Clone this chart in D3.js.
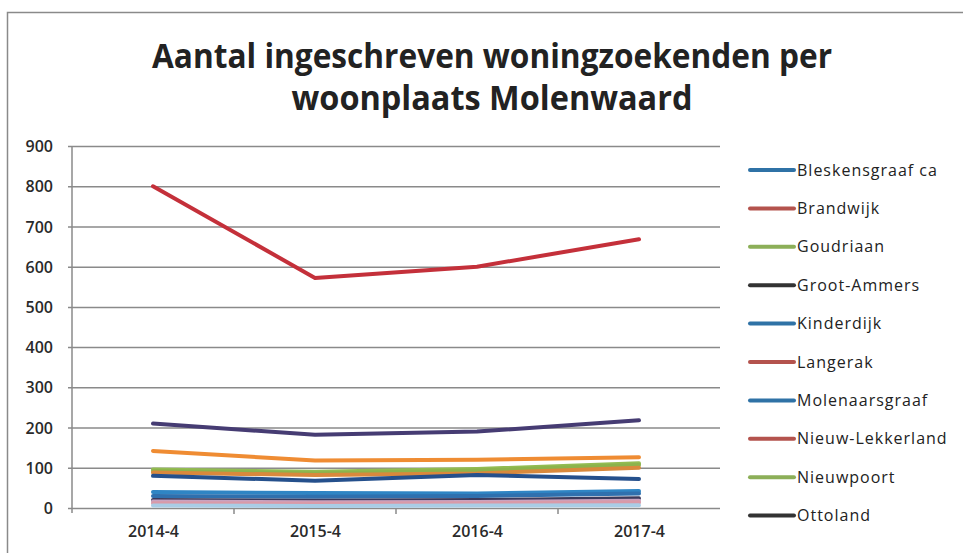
<!DOCTYPE html>
<html>
<head>
<meta charset="utf-8">
<script src="https://cdn.jsdelivr.net/npm/d3@7"></script>
<style>
  body { margin: 0; background: #fff; }
  text { fill: #222; }
</style>
</head>
<body>
<div id="chart"></div>
<script>
// periods on the x axis
const periods = ['2014-4', '2015-4', '2016-4', '2017-4'];

// places, in legend order
const places = [
  'Bleskensgraaf ca', 'Brandwijk', 'Goudriaan', 'Groot-Ammers', 'Kinderdijk',
  'Langerak', 'Molenaarsgraaf', 'Nieuw-Lekkerland', 'Nieuwpoort', 'Ottoland',
  'Oud-Alblas', 'Streefkerk', 'Wijngaarden'
];

// values per place
const bleskensgraaf   = [80, 68, 82, 72];
const brandwijk       = [12, 11, 12, 14];
const goudriaan       = [92, 86, 93, 107];
const grootAmmers     = [210, 182, 190, 218];
const kinderdijk      = [40, 37, 36, 42];
const langerak        = [88, 82, 86, 100];
const molenaarsgraaf  = [30, 28, 30, 36];
const nieuwLekkerland = [800, 572, 600, 668];
const nieuwpoort      = [96, 90, 97, 111];
const ottoland        = [20, 18, 20, 24];
const oudAlblas       = [6, 5, 6, 7];
const streefkerk      = [142, 118, 120, 126];
const wijngaarden     = [16, 14, 15, 18];

const seriesValues = [bleskensgraaf, brandwijk, goudriaan, grootAmmers, kinderdijk,
  langerak, molenaarsgraaf, nieuwLekkerland, nieuwpoort, ottoland,
  oudAlblas, streefkerk, wijngaarden];

const colors = ['#25508c', '#d99aa8', '#8cb34c', '#463c73', '#2f85c4',
  '#d9893c', '#2f70ae', '#c4303a', '#93bc52', '#3b3a5c',
  '#a9cde6', '#ef8c33', '#c9a3c0'];

const yTicks = [0, 100, 200, 300, 400, 500, 600, 700, 800, 900];

const width = 963, height = 553;
const plot = { left: 72, right: 720, top: 146, bottom: 508 };
const font = '"Open Sans", sans-serif';

const svg = d3.select('#chart').append('svg')
  .attr('width', width)
  .attr('height', height)
  .style('font-family', font);

// chart frame
svg.append('rect')
  .attr('x', 7.5).attr('y', 12.5)
  .attr('width', width + 20).attr('height', height + 20)
  .attr('fill', 'none')
  .attr('stroke', '#8a8a8a')
  .attr('stroke-width', 1.5);

// title
const titleLines = [
  { text: 'Aantal ingeschreven woningzoekenden per', y: 68, w: 680 },
  { text: 'woonplaats Molenwaard', y: 110, w: 401 }
];
svg.selectAll('.title')
  .data(titleLines)
  .enter().append('text')
  .attr('class', 'title')
  .attr('x', 492)
  .attr('y', d => d.y)
  .attr('text-anchor', 'middle')
  .attr('textLength', d => d.w)
  .attr('lengthAdjust', 'spacingAndGlyphs')
  .style('font-size', '34px')
  .style('font-weight', 'bold')
  .text(d => d.text);

const x = d3.scalePoint()
  .domain(periods)
  .range([plot.left, plot.right])
  .padding(0.5);

const y = d3.scaleLinear()
  .domain([0, 900])
  .range([plot.bottom, plot.top]);

// horizontal gridlines with small outer ticks
const yAxis = d3.axisLeft(y)
  .tickValues(yTicks)
  .tickSize(-(plot.right - plot.left) - 4)
  .tickPadding(16)
  .tickFormat(d3.format('d'));

const gy = svg.append('g')
  .attr('transform', `translate(${plot.left - 4},0)`)
  .call(yAxis)
  .attr('font-family', font);
gy.select('.domain').remove();
gy.selectAll('.tick line')
  .attr('x1', 0)
  .attr('stroke', '#8a8a8a')
  .attr('stroke-width', 1.5);
gy.selectAll('.tick text')
  .attr('x', -15)
  .style('font-size', '16px')
  .style('font-weight', '600')
  .style('fill', '#2a2a2a')
  .attr('dy', '0.35em');

// vertical axis line
svg.append('line')
  .attr('x1', plot.left).attr('x2', plot.left)
  .attr('y1', plot.top).attr('y2', plot.bottom + 5)
  .attr('stroke', '#8a8a8a')
  .attr('stroke-width', 1.5);

// x axis with ticks between categories
const step = x.step();
const xAxis = d3.axisBottom(x).tickSize(0).tickPadding(18);
const gx = svg.append('g')
  .attr('transform', `translate(0,${plot.bottom})`)
  .call(xAxis)
  .attr('font-family', font);
gx.select('.domain').remove();
gx.selectAll('.tick text')
  .style('font-size', '16px')
  .style('font-weight', '600')
  .style('fill', '#2a2a2a');
gx.selectAll('.sep')
  .data(periods.slice(0, -1))
  .enter().append('line')
  .attr('class', 'sep')
  .attr('x1', d => x(d) + step / 2)
  .attr('x2', d => x(d) + step / 2)
  .attr('y1', 0).attr('y2', 6)
  .attr('stroke', '#8a8a8a')
  .attr('stroke-width', 1.5);

// lines
const series = places.map((p, i) => ({ name: p, values: seriesValues[i], color: colors[i] }));
const line = d3.line()
  .x((d, i) => x(periods[i]))
  .y(d => y(d));

// draw bottom series first so the larger ones stay on top
svg.append('g')
  .selectAll('path')
  .data(series.slice().sort((a, b) => d3.min(a.values) - d3.min(b.values)).reverse())
  .enter().append('path')
  .attr('d', d => line(d.values))
  .attr('fill', 'none')
  .attr('stroke', d => d.color)
  .attr('stroke-width', 4)
  .attr('stroke-linejoin', 'round')
  .attr('stroke-linecap', 'round');

// legend (entries past the bottom edge fall out of the picture)
const legendColors = ['#2f72a6', '#b4534d', '#8caf58', '#333333', '#2f72a6',
  '#b4534d', '#2f72a6', '#b4534d', '#8caf58', '#333333',
  '#2f72a6', '#b4534d', '#8caf58'];
const rowH = 38.4;
const legend = svg.append('g')
  .selectAll('g')
  .data(series.filter((d, i) => 170 + i * rowH < height - 12))
  .enter().append('g')
  .attr('transform', (d, i) => `translate(750,${170 + i * rowH})`);
legend.append('line')
  .attr('x1', 0).attr('x2', 44)
  .attr('stroke', (d, i) => legendColors[i])
  .attr('stroke-width', 4)
  .attr('stroke-linecap', 'round');
legend.append('text')
  .attr('x', 47)
  .attr('dy', '0.35em')
  .style('font-size', '16px')
  .style('letter-spacing', '1px')
  .style('fill', '#222')
  .text(d => d.name);
</script>
</body>
</html>
